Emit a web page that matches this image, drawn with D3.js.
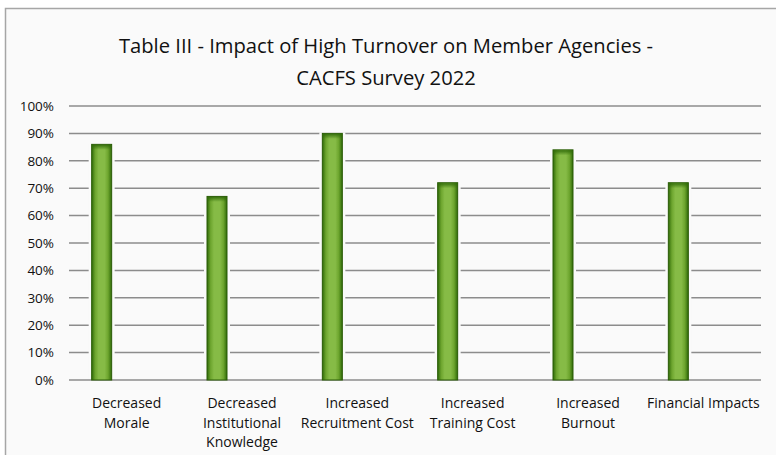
<!DOCTYPE html>
<html>
<head>
<meta charset="utf-8">
<script src="https://cdn.jsdelivr.net/npm/d3@7"></script>
<style>
  html, body { margin: 0; padding: 0; background: #ffffff; }
  svg { display: block; }
</style>
</head>
<body>
<div id="chart"></div>
<script>
// data
const categories = [
  ['Decreased', 'Morale'],
  ['Decreased', 'Institutional', 'Knowledge'],
  ['Increased', 'Recruitment Cost'],
  ['Increased', 'Training Cost'],
  ['Increased', 'Burnout'],
  ['Financial Impacts']
];
const values = [0.86, 0.67, 0.90, 0.72, 0.84, 0.72];
const yTicks = [0, 0.1, 0.2, 0.3, 0.4, 0.5, 0.6, 0.7, 0.8, 0.9, 1.0];
const titleLines = ['Table III - Impact of High Turnover on Member Agencies -', 'CACFS Survey 2022'];

const W = 776, H = 455;
const margin = { top: 106, right: 15, bottom: 75, left: 69 };
const innerW = W - margin.left - margin.right;
const innerH = H - margin.top - margin.bottom;
const font = 'Open Sans, sans-serif';

const svg = d3.select('#chart').append('svg')
    .attr('width', W)
    .attr('height', H);

// chart area background + border
svg.append('rect')
    .attr('x', 5.5).attr('y', 8.5)
    .attr('width', W + 10).attr('height', H + 10)
    .attr('fill', '#fafafa')
    .attr('stroke', '#a6a6a6')
    .attr('stroke-width', 1.5);

// bar gradient
const defs = svg.append('defs');
const grad = defs.append('linearGradient')
    .attr('id', 'barGrad')
    .attr('x1', '0%').attr('x2', '100%').attr('y1', '0%').attr('y2', '0%');
[['0%', '#2f6a08'], ['18%', '#6da52e'], ['35%', '#86bb46'], ['65%', '#86bb46'], ['82%', '#6da52e'], ['100%', '#2f6a08']]
    .forEach(s => grad.append('stop').attr('offset', s[0]).attr('stop-color', s[1]));
const gradV = defs.append('linearGradient')
    .attr('id', 'barTop')
    .attr('x1', '0%').attr('x2', '0%').attr('y1', '0%').attr('y2', '100%');
gradV.append('stop').attr('offset', '0%').attr('stop-color', '#2f6a08').attr('stop-opacity', 0.9);
gradV.append('stop').attr('offset', '100%').attr('stop-color', '#2f6a08').attr('stop-opacity', 0);

// title
svg.append('text')
    .attr('x', 386)
    .attr('y', 53)
    .attr('text-anchor', 'middle')
    .attr('fill', '#111')
    .style('font-family', font)
    .style('font-size', '20.2px')
    .selectAll('tspan')
    .data(titleLines)
    .join('tspan')
    .attr('x', 386)
    .attr('dy', (d, i) => i === 0 ? 0 : 32)
    .text(d => d);

const g = svg.append('g')
    .attr('transform', `translate(${margin.left},${margin.top})`);

const x = d3.scaleBand()
    .domain(d3.range(categories.length))
    .range([0, innerW]);

const y = d3.scaleLinear()
    .domain([0, 1])
    .range([innerH, 0]);

// gridlines
g.selectAll('.grid')
    .data(yTicks)
    .join('line')
    .attr('x1', 0)
    .attr('x2', innerW)
    .attr('y1', d => y(d))
    .attr('y2', d => y(d))
    .attr('stroke', '#8c8c8c')
    .attr('stroke-width', 1.5);

// y axis labels
g.selectAll('.ytick')
    .data(yTicks)
    .join('text')
    .attr('x', -15)
    .attr('y', d => y(d))
    .attr('dy', '0.35em')
    .attr('text-anchor', 'end')
    .attr('fill', '#111')
    .style('font-family', font)
    .style('font-size', '13.5px')
    .text(d3.format('.0%'));

// bars (first series slot of a clustered group)
const barW = 20;
const barOffset = -25;
const barX = i => x(i) + x.bandwidth() / 2 + barOffset - barW / 2;

// soft halo behind bars
g.selectAll('.halo')
    .data(values)
    .join('rect')
    .attr('x', (d, i) => barX(i) - 3)
    .attr('y', d => y(d) - 1)
    .attr('width', barW + 6)
    .attr('height', d => innerH - y(d) - 0.5)
    .attr('fill', '#fafafa');

g.selectAll('.bar')
    .data(values)
    .join('rect')
    .attr('x', (d, i) => barX(i))
    .attr('y', d => y(d))
    .attr('width', barW)
    .attr('height', d => innerH - y(d))
    .attr('fill', 'url(#barGrad)')
    .attr('stroke', '#2a5c07')
    .attr('stroke-width', 1);

g.selectAll('.bartop')
    .data(values)
    .join('rect')
    .attr('x', (d, i) => barX(i) + 0.5)
    .attr('y', d => y(d) + 0.5)
    .attr('width', barW - 1)
    .attr('height', 5)
    .attr('fill', 'url(#barTop)');

// category labels
g.selectAll('.xlab')
    .data(categories)
    .join('text')
    .attr('text-anchor', 'middle')
    .attr('fill', '#111')
    .style('font-family', font)
    .style('font-size', '14px')
    .each(function (lines, i) {
        d3.select(this).selectAll('tspan')
            .data(lines)
            .join('tspan')
            .attr('x', x(i) + x.bandwidth() / 2)
            .attr('y', (d, j) => innerH + 28 + j * 19.5)
            .text(d => d);
    });
</script>
</body>
</html>
